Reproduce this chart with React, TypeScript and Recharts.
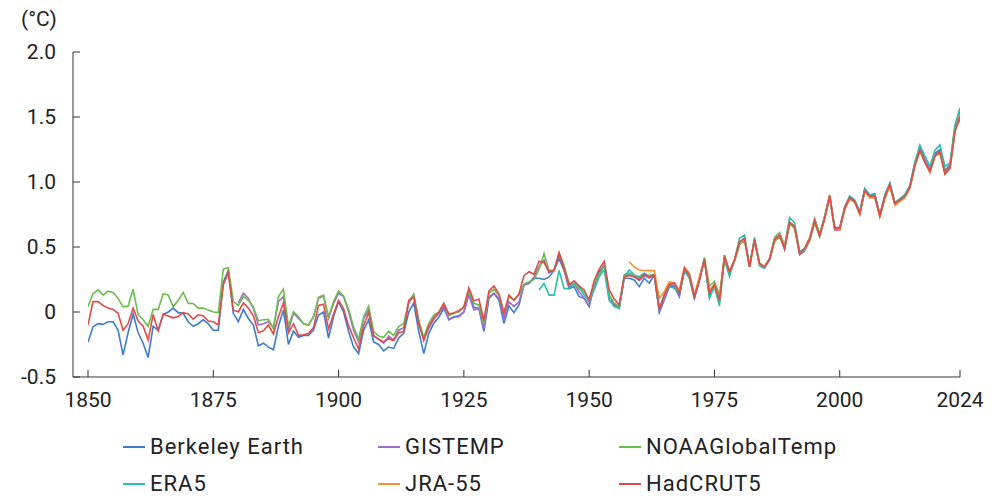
import React from 'react';
import { LineChart, Line, XAxis, YAxis } from 'recharts';

const FIRST_YEAR = 1850;
const LAST_YEAR = 2024;
const X_TICKS = [1850, 1875, 1900, 1925, 1950, 1975, 2000, 2024];
const Y_TICKS = [-0.5, 0, 0.5, 1.0, 1.5, 2.0];
const UNIT_LABEL = '(°C)';

// Berkeley Earth, 1850-2024
const berkeley = [
  -0.23, -0.115, -0.09, -0.095, -0.075, -0.075, -0.14, -0.33, -0.16, -0.015,
  -0.16, -0.24, -0.35, -0.11, -0.14, -0.02, 0.0, 0.03, -0.005, -0.01,
  -0.075, -0.11, -0.09, -0.06, -0.09, -0.14, -0.14, 0.23, 0.32, -0.01,
  -0.075, 0.02, -0.05, -0.1, -0.26, -0.24, -0.27, -0.29, -0.11, 0.015,
  -0.25, -0.147, -0.195, -0.18, -0.18, -0.14, -0.024, 0.0, -0.2, -0.035,
  0.08, 0.0, -0.15, -0.27, -0.32, -0.14, -0.06, -0.23, -0.25, -0.3,
  -0.27, -0.28, -0.2, -0.165, 0.0, 0.07, -0.15, -0.32, -0.164, -0.087,
  -0.04, 0.028, -0.056, -0.036, -0.03, 0.0, 0.144, 0.036, 0.028, -0.15,
  0.105, 0.144, 0.092, -0.087, 0.046, -0.005, 0.054, 0.208, 0.221, 0.26,
  0.26, 0.25, 0.27, 0.32, 0.41, 0.32, 0.18, 0.195, 0.118, 0.105,
  0.041, 0.208, 0.31, 0.36, 0.13, 0.054, 0.028, 0.26, 0.26, 0.246,
  0.195, 0.26, 0.221, 0.285, -0.005, 0.092, 0.195, 0.195, 0.118, 0.323,
  0.26, 0.105, 0.246, 0.41, 0.118, 0.2, 0.08, 0.438, 0.31, 0.4,
  0.53, 0.57, 0.35, 0.56, 0.37, 0.35, 0.41, 0.56, 0.6, 0.5,
  0.69, 0.66, 0.45, 0.48, 0.56, 0.71, 0.6, 0.73, 0.9, 0.65,
  0.65, 0.81, 0.89, 0.86, 0.77, 0.95, 0.9, 0.91, 0.75, 0.9,
  0.99, 0.84, 0.87, 0.9, 0.97, 1.15, 1.27, 1.17, 1.1, 1.22,
  1.25, 1.09, 1.13, 1.43, 1.55,
];

// GISTEMP, 1880-2024
const gistemp = [
  0.07, 0.145, 0.105, 0.028, -0.1, -0.09, -0.075, -0.12, 0.08, 0.118,
  -0.14, -0.01, -0.05, -0.09, -0.1, -0.036, 0.105, 0.123, -0.05, 0.067,
  0.144, 0.118, 0.003, -0.14, -0.23, -0.05, 0.015, -0.18, -0.21, -0.24,
  -0.185, -0.215, -0.14, -0.12, 0.067, 0.13, -0.08, -0.21, -0.125, -0.056,
  -0.01, 0.046, -0.061, -0.04, -0.036, 0.0, 0.13, 0.015, 0.028, -0.125,
  0.118, 0.144, 0.105, -0.05, 0.079, 0.041, 0.079, 0.208, 0.221, 0.27,
  0.35, 0.4, 0.3, 0.32, 0.44, 0.323, 0.195, 0.221, 0.156, 0.105,
  0.054, 0.195, 0.285, 0.36, 0.092, 0.06, 0.041, 0.27, 0.29, 0.27,
  0.24, 0.28, 0.26, 0.28, 0.01, 0.1, 0.2, 0.21, 0.13, 0.32,
  0.27, 0.11, 0.24, 0.4, 0.13, 0.2, 0.08, 0.42, 0.3, 0.39,
  0.515, 0.567, 0.349, 0.55, 0.36, 0.34, 0.4, 0.55, 0.59, 0.48,
  0.68, 0.65, 0.44, 0.47, 0.55, 0.69, 0.58, 0.72, 0.88, 0.63,
  0.63, 0.8, 0.88, 0.85, 0.75, 0.94, 0.88, 0.9, 0.74, 0.88,
  0.98, 0.83, 0.86, 0.89, 0.96, 1.13, 1.25, 1.17, 1.09, 1.21,
  1.24, 1.08, 1.12, 1.41, 1.52,
];

// NOAAGlobalTemp, 1850-2024
const noaa = [
  0.04, 0.14, 0.17, 0.13, 0.16, 0.15, 0.105, 0.04, 0.045, 0.175,
  -0.02, -0.06, -0.11, 0.02, 0.02, 0.14, 0.13, 0.04, 0.09, 0.15,
  0.065, 0.065, 0.03, 0.03, 0.015, 0.0, -0.005, 0.33, 0.34, 0.08,
  0.05, 0.12, 0.09, 0.04, -0.067, -0.06, -0.057, -0.13, 0.118, 0.175,
  -0.11, 0.003, -0.036, -0.09, -0.1, -0.036, 0.113, 0.13, -0.036, 0.08,
  0.162, 0.123, 0.02, -0.113, -0.21, -0.036, 0.046, -0.15, -0.185, -0.195,
  -0.147, -0.18, -0.11, -0.09, 0.08, 0.138, -0.06, -0.195, -0.087, -0.023,
  0.0, 0.067, -0.03, -0.01, 0.0, 0.036, 0.156, 0.067, 0.054, -0.087,
  0.144, 0.174, 0.13, -0.01, 0.118, 0.092, 0.13, 0.215, 0.233, 0.25,
  0.33, 0.45, 0.32, 0.32, 0.456, 0.36, 0.221, 0.208, 0.18, 0.156,
  0.092, 0.221, 0.285, 0.36, 0.13, 0.07, 0.04, 0.285, 0.3, 0.28,
  0.26, 0.29, 0.28, 0.29, 0.03, 0.12, 0.22, 0.22, 0.15, 0.33,
  0.28, 0.12, 0.25, 0.42, 0.2, 0.235, 0.13, 0.42, 0.31, 0.39,
  0.52, 0.55, 0.35, 0.54, 0.37, 0.35, 0.4, 0.54, 0.58, 0.49,
  0.68, 0.64, 0.45, 0.48, 0.55, 0.69, 0.58, 0.72, 0.88, 0.64,
  0.64, 0.79, 0.87, 0.85, 0.76, 0.93, 0.88, 0.88, 0.74, 0.88,
  0.97, 0.83, 0.86, 0.89, 0.96, 1.13, 1.24, 1.15, 1.08, 1.2,
  1.23, 1.07, 1.11, 1.4, 1.48,
];

// ERA5, 1940-2024
const era5 = [
  0.17, 0.22, 0.13, 0.13, 0.32, 0.18, 0.18, 0.22, 0.195, 0.131,
  0.079, 0.169, 0.272, 0.323, 0.092, 0.041, 0.028, 0.272, 0.323, 0.285,
  0.272, 0.3, 0.272, 0.285, 0.028, 0.13, 0.195, 0.182, 0.144, 0.31,
  0.272, 0.105, 0.26, 0.4, 0.105, 0.195, 0.046, 0.405, 0.272, 0.4,
  0.567, 0.592, 0.349, 0.574, 0.354, 0.336, 0.413, 0.574, 0.61, 0.515,
  0.725, 0.685, 0.464, 0.49, 0.57, 0.72, 0.6, 0.74, 0.9, 0.64,
  0.64, 0.8, 0.89, 0.86, 0.77, 0.95, 0.9, 0.9, 0.74, 0.89,
  0.99, 0.84, 0.87, 0.9, 0.97, 1.15, 1.285, 1.2, 1.12, 1.245,
  1.285, 1.12, 1.145, 1.44, 1.57,
];

// JRA-55, 1958-2024
const jra55 = [
  0.387, 0.346,
  0.323, 0.318, 0.318, 0.318, 0.105, 0.156, 0.233, 0.221, 0.169, 0.346,
  0.3, 0.131, 0.272, 0.4, 0.169, 0.215, 0.092, 0.43, 0.31, 0.4,
  0.53, 0.56, 0.35, 0.55, 0.37, 0.35, 0.41, 0.56, 0.6, 0.5,
  0.69, 0.66, 0.45, 0.49, 0.57, 0.71, 0.59, 0.73, 0.9, 0.64,
  0.63, 0.79, 0.87, 0.84, 0.75, 0.93, 0.88, 0.88, 0.73, 0.87,
  0.97, 0.82, 0.85, 0.88, 0.95, 1.12, 1.24, 1.15, 1.07, 1.2,
  1.22, 1.06, 1.1, 1.39, 1.52,
];

// HadCRUT5, 1850-2024
const hadcrut5 = [
  -0.1, 0.08, 0.08, 0.05, 0.03, 0.02, -0.01, -0.14, -0.09, 0.03,
  -0.07, -0.11, -0.215, -0.02, -0.145, -0.015, -0.03, -0.045, -0.035, -0.005,
  -0.015, -0.055, -0.02, -0.03, -0.07, -0.075, -0.1, 0.21, 0.3, 0.015,
  0.0, 0.07, 0.03, -0.03, -0.16, -0.145, -0.1, -0.17, -0.035, 0.07,
  -0.16, -0.09, -0.18, -0.175, -0.165, -0.12, 0.05, 0.06, -0.13, -0.015,
  0.09, 0.025, -0.105, -0.2, -0.285, -0.105, -0.005, -0.185, -0.21, -0.23,
  -0.205, -0.22, -0.16, -0.15, 0.09, 0.115, -0.09, -0.22, -0.11, -0.045,
  -0.005, 0.065, -0.015, -0.005, 0.01, 0.04, 0.185, 0.085, 0.1, -0.065,
  0.16, 0.2, 0.14, -0.01, 0.13, 0.09, 0.14, 0.28, 0.31, 0.29,
  0.39, 0.38, 0.31, 0.32, 0.455, 0.33, 0.21, 0.24, 0.2, 0.17,
  0.09, 0.24, 0.33, 0.39, 0.17, 0.1, 0.055, 0.27, 0.28, 0.27,
  0.25, 0.29, 0.27, 0.285, 0.02, 0.13, 0.21, 0.225, 0.145, 0.335,
  0.285, 0.115, 0.245, 0.405, 0.145, 0.21, 0.09, 0.425, 0.31, 0.4,
  0.54, 0.565, 0.345, 0.555, 0.375, 0.345, 0.405, 0.555, 0.59, 0.49,
  0.69, 0.655, 0.45, 0.49, 0.56, 0.7, 0.59, 0.72, 0.89, 0.645,
  0.645, 0.8, 0.88, 0.85, 0.76, 0.935, 0.89, 0.89, 0.74, 0.885,
  0.98, 0.835, 0.86, 0.89, 0.96, 1.13, 1.245, 1.15, 1.08, 1.2,
  1.23, 1.06, 1.11, 1.39, 1.5,
];

const SERIES = [
  { key: 'berkeley', name: 'Berkeley Earth', start: 1850, values: berkeley, color: '#3d7ccc' },
  { key: 'gistemp', name: 'GISTEMP', start: 1880, values: gistemp, color: '#9e6bcf' },
  { key: 'noaa', name: 'NOAAGlobalTemp', start: 1850, values: noaa, color: '#6abf4b' },
  { key: 'era5', name: 'ERA5', start: 1940, values: era5, color: '#2bbfae' },
  { key: 'jra55', name: 'JRA-55', start: 1958, values: jra55, color: '#f39237' },
  { key: 'hadcrut5', name: 'HadCRUT5', start: 1850, values: hadcrut5, color: '#e04b4b' },
];

const YEARS = Array.from({ length: LAST_YEAR - FIRST_YEAR + 1 }, (_, i) => FIRST_YEAR + i);

const DATA = YEARS.map((year) => {
  const row: Record<string, number | null> = { year };
  SERIES.forEach((s) => {
    const i = year - s.start;
    row[s.key] = i >= 0 && i < s.values.length ? s.values[i] : null;
  });
  return row;
});

const FONT = 'Roboto, "Noto Sans", "DejaVu Sans", sans-serif';
const AXIS_COLOR = '#333333';
const TEXT_COLOR = '#222222';

const LEGEND_COLS = [123, 378, 619];
const LEGEND_ROWS = [436, 473];

export default function App() {
  return (
    <div
      style={{
        position: 'absolute',
        left: 0,
        top: 0,
        width: 994,
        height: 497,
        background: '#ffffff',
        fontFamily: FONT,
        overflow: 'hidden',
      }}
    >
      <LineChart
        width={994}
        height={497}
        data={DATA}
        margin={{ top: 52, right: 34, bottom: 90, left: 0 }}
      >
        <XAxis
          dataKey="year"
          type="number"
          domain={[FIRST_YEAR, LAST_YEAR]}
          ticks={X_TICKS}
          interval={0}
          height={30}
          padding={{ left: 15, right: 0 }}
          tickSize={-7}
          tickMargin={22}
          axisLine={{ stroke: AXIS_COLOR, strokeWidth: 1 }}
          tickLine={{ stroke: AXIS_COLOR, strokeWidth: 1 }}
          tick={{ fill: TEXT_COLOR, fontSize: 21, fontFamily: FONT }}
          allowDataOverflow
        />
        <YAxis
          type="number"
          domain={[-0.5, 2.0]}
          ticks={Y_TICKS}
          interval={0}
          width={73}
          tickSize={-7}
          tickMargin={24}
          axisLine={{ stroke: AXIS_COLOR, strokeWidth: 1 }}
          tickLine={{ stroke: AXIS_COLOR, strokeWidth: 1 }}
          tick={{ fill: TEXT_COLOR, fontSize: 21, fontFamily: FONT }}
          tickFormatter={(v: number) => (v === 0 ? '0' : v.toFixed(1))}
          allowDataOverflow
        />
        {SERIES.map((s) => (
          <Line
            key={s.key}
            dataKey={s.key}
            name={s.name}
            type="linear"
            stroke={s.color}
            strokeWidth={1.6}
            dot={false}
            activeDot={false}
            connectNulls={false}
            isAnimationActive={false}
          />
        ))}
      </LineChart>

      <div
        style={{
          position: 'absolute',
          left: 21,
          top: 9,
          fontSize: 21,
          lineHeight: '21px',
          color: TEXT_COLOR,
          whiteSpace: 'nowrap',
        }}
      >
        {UNIT_LABEL}
      </div>

      {SERIES.map((s, i) => (
        <div
          key={s.key}
          style={{
            position: 'absolute',
            left: LEGEND_COLS[i % 3],
            top: LEGEND_ROWS[Math.floor(i / 3)],
            height: 22,
            display: 'flex',
            alignItems: 'center',
            whiteSpace: 'nowrap',
          }}
        >
          <div style={{ width: 22, height: 2, background: s.color, marginRight: 5 }} />
          <span
            style={{
              fontSize: 22,
              lineHeight: '22px',
              letterSpacing: 1,
              color: TEXT_COLOR,
            }}
          >
            {s.name}
          </span>
        </div>
      ))}
    </div>
  );
}
